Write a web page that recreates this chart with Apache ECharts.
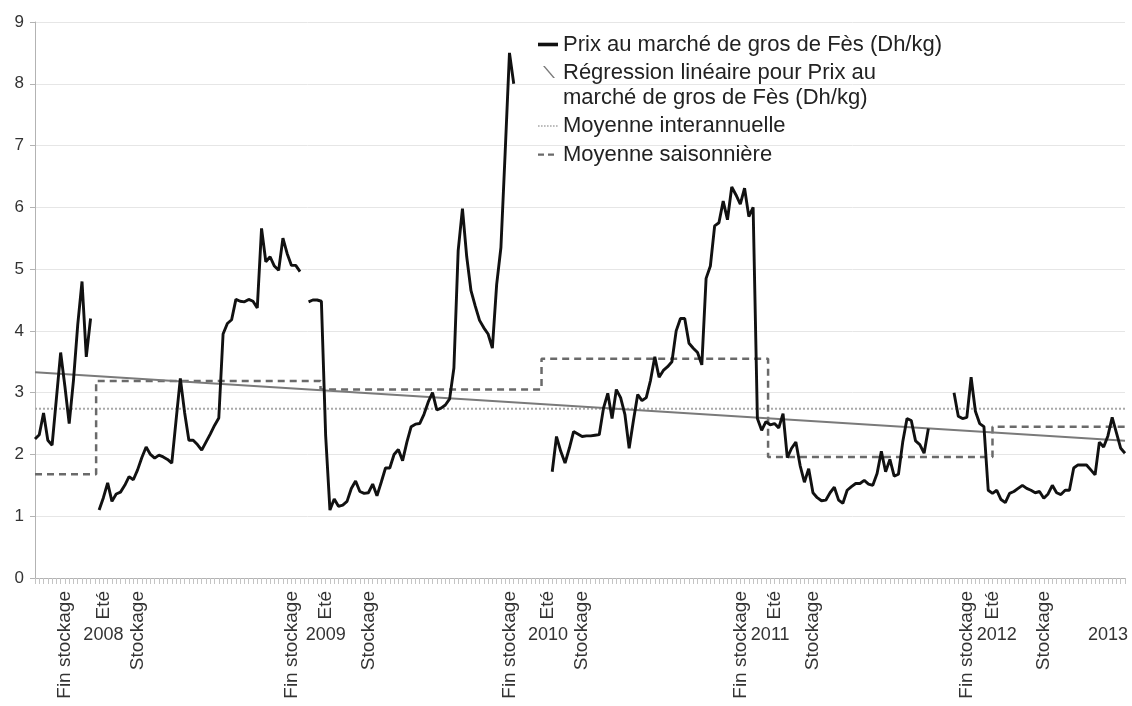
<!DOCTYPE html>
<html>
<head>
<meta charset="utf-8">
<script src="https://cdn.jsdelivr.net/npm/echarts@6/dist/echarts.min.js"></script>
<style>html,body{margin:0;padding:0;background:#fff}#c{width:1132px;height:706px}</style>
</head>
<body>
<div id="c"></div>
<script>
// ---- data (weekly observations, index 0..255) ----
const weekCount = 256;
const segmentStarts = [0, 15, 64, 121, 215];
const prix2008a = [2.25, 2.32, 2.67, 2.23, 2.15, 2.9, 3.65, 3.1, 2.5, 3.2, 4.1, 4.8, 3.58, 4.2];
const prix2008b = [1.10, 1.30, 1.54, 1.24, 1.36, 1.39, 1.50, 1.64, 1.59, 1.75, 1.95, 2.12, 2.00, 1.94, 1.99, 1.96, 1.92, 1.86,
  2.55, 3.23, 2.68, 2.23, 2.23, 2.16, 2.07, 2.20, 2.33, 2.47, 2.59, 3.95, 4.12, 4.18, 4.51, 4.48, 4.47, 4.51, 4.48, 4.37,
  5.66, 5.12, 5.20, 5.05, 4.98, 5.50, 5.25, 5.06, 5.06, 4.96];
const prix2009 = [4.47, 4.50, 4.50, 4.48, 2.30, 1.10, 1.28, 1.16, 1.18, 1.24, 1.45, 1.57, 1.40, 1.37, 1.38, 1.52, 1.33, 1.55,
  1.78, 1.78, 2.00, 2.08, 1.90, 2.20, 2.45, 2.49, 2.50, 2.65, 2.85, 3.00, 2.72, 2.75, 2.80, 2.90, 3.40, 5.30, 5.98, 5.20,
  4.65, 4.40, 4.17, 4.05, 3.95, 3.72, 4.75, 5.35, 6.90, 8.50, 8.00];
const prix2010 = [1.72, 2.29, 2.05, 1.86, 2.10, 2.37, 2.33, 2.29, 2.30, 2.30, 2.31, 2.32, 2.75, 2.99, 2.58, 3.05, 2.92, 2.65,
  2.10, 2.55, 2.97, 2.87, 2.92, 3.20, 3.58, 3.25, 3.36, 3.42, 3.50, 4.00, 4.20, 4.20, 3.80, 3.72, 3.65, 3.45, 4.85, 5.05,
  5.70, 5.75, 6.10, 5.80, 6.33, 6.20, 6.05, 6.31, 5.85, 6.00, 2.58, 2.39, 2.53, 2.48, 2.50, 2.43, 2.66, 1.95, 2.10, 2.20,
  1.82, 1.55, 1.77, 1.38, 1.30, 1.25, 1.26, 1.38, 1.47, 1.26, 1.21, 1.42, 1.48, 1.53, 1.53, 1.58, 1.52, 1.50, 1.69, 2.05,
  1.72, 1.92, 1.65, 1.68, 2.20, 2.58, 2.55, 2.22, 2.16, 2.02, 2.42];
const prix2012 = [3.00, 2.62, 2.58, 2.60, 3.25, 2.70, 2.50, 2.45, 1.42, 1.37, 1.42, 1.27, 1.22, 1.37, 1.40, 1.45, 1.50, 1.45,
  1.42, 1.38, 1.40, 1.29, 1.36, 1.50, 1.38, 1.35, 1.42, 1.42, 1.78, 1.83, 1.83, 1.83, 1.75, 1.67, 2.20, 2.12, 2.30, 2.60,
  2.35, 2.10, 2.02];
const regressionEnds = [3.33, 2.22];
const moyenneInterannuelle = 2.74;
const seasonBreaks = [0, 14.3, 66.8, 118.5, 171.5, 224, 255];
const seasonMeans = [1.68, 3.19, 3.05, 3.55, 1.96, 2.45];
const seasonTickIdx = [7, 16, 24, 60, 68, 78, 111, 120, 128, 165, 173, 182, 218, 224, 236];
const seasonTickText = ['Fin stockage', 'Eté', 'Stockage', 'Fin stockage', 'Eté', 'Stockage', 'Fin stockage', 'Eté', 'Stockage',
  'Fin stockage', 'Eté', 'Stockage', 'Fin stockage', 'Eté', 'Stockage'];
const yearTickIdx = [16, 68, 120, 172, 225, 251];
const yearTickText = ['2008', '2009', '2010', '2011', '2012', '2013'];
const seriesNames = ['Prix au marché de gros de Fès (Dh/kg)',
  'Régression linéaire pour Prix au\nmarché de gros de Fès (Dh/kg)',
  'Moyenne interannuelle', 'Moyenne saisonnière'];

// ---- build series data ----
const prix = new Array(weekCount).fill(null);
[prix2008a, prix2008b, prix2009, prix2010, prix2012].forEach((seg, k) => {
  seg.forEach((v, j) => { prix[segmentStarts[k] + j] = v; });
});
const prixData = prix.map((v, i) => [i, v == null ? '-' : v]);
const regData = [[0, regressionEnds[0]], [weekCount - 1, regressionEnds[1]]];
const interData = [[0, moyenneInterannuelle], [weekCount - 1, moyenneInterannuelle]];
const seasonData = [];
seasonMeans.forEach((m, k) => { seasonData.push([seasonBreaks[k], m]); seasonData.push([seasonBreaks[k + 1], m]); });

const FONT = '"Liberation Sans", Arial, sans-serif';
const box = 'M0,0L0,0M20,14L20,14';
let dots = box;
for (let x = 0; x <= 18; x += 3) dots += 'M' + x + ',6.2L' + (x + 1.6) + ',6.2L' + (x + 1.6) + ',7.8L' + x + ',7.8Z';
const icons = [
  'path://' + box + 'M0,5.2L20,5.2L20,8.8L0,8.8Z',
  'path://' + box + 'M5,0L6.8,0L17,12L15.2,12Z',
  'path://' + dots,
  'path://' + box + 'M0,6L6,6L6,8.2L0,8.2ZM10,6L16,6L16,8.2L10,8.2Z'
];

const chart = echarts.init(document.getElementById('c'));
chart.setOption({
  animation: false,
  backgroundColor: '#fff',
  textStyle: { fontFamily: FONT },
  grid: { left: 35, right: 7, top: 22, bottom: 128, containLabel: false, outerBoundsMode: 'none' },
  legend: [{
    orient: 'vertical', left: 538, top: 32, padding: 0, itemGap: -21.5, itemWidth: 20, itemHeight: 14,
    selectedMode: false, itemStyle: { borderWidth: 0 },
    textStyle: { fontSize: 22, lineHeight: 25, color: '#222', fontFamily: FONT },
    formatter: name => (name === seriesNames[1] ? '\n' + name : name),
    data: [
      { name: seriesNames[0], icon: icons[0] },
      { name: seriesNames[1], icon: icons[1] }
    ]
  }, {
    orient: 'vertical', left: 538, top: 113.5, padding: 0, itemGap: 3.5, itemWidth: 20, itemHeight: 14,
    selectedMode: false, itemStyle: { borderWidth: 0 },
    textStyle: { fontSize: 22, lineHeight: 25, color: '#222', fontFamily: FONT },
    data: [
      { name: seriesNames[2], icon: icons[2] },
      { name: seriesNames[3], icon: icons[3] }
    ]
  }],
  xAxis: [{
    type: 'value', min: 0, max: weekCount - 1, interval: 1, position: 'bottom',
    axisLine: { show: true, lineStyle: { color: '#b3b3b3', width: 1 } },
    axisTick: { show: true, length: 6, lineStyle: { color: '#c4c4c4', width: 1 } },
    splitLine: { show: false },
    axisLabel: {
      show: true, rotate: 90, margin: 13, fontSize: 19, color: '#333', fontFamily: FONT,
      formatter: v => { const k = seasonTickIdx.indexOf(Math.round(v)); return k >= 0 ? seasonTickText[k] : ''; }
    }
  }, {
    type: 'value', min: 0, max: weekCount - 1, interval: 1, position: 'bottom',
    axisLine: { show: false }, axisTick: { show: false }, splitLine: { show: false },
    axisLabel: {
      show: true, rotate: 0, margin: 48, fontSize: 18, color: '#333', fontFamily: FONT,
      formatter: v => { const k = yearTickIdx.indexOf(Math.round(v)); return k >= 0 ? yearTickText[k] : ''; }
    }
  }],
  yAxis: {
    type: 'value', min: 0, max: 9, interval: 1,
    axisLine: { show: true, lineStyle: { color: '#b3b3b3', width: 1 } },
    axisTick: { show: true, length: 5, lineStyle: { color: '#b3b3b3' } },
    splitLine: { show: true, lineStyle: { color: '#e6e6e6', width: 1 } },
    axisLabel: { fontSize: 17, color: '#333', margin: 11, fontFamily: FONT }
  },
  series: [
    { name: seriesNames[2], type: 'line', data: interData, symbol: 'none', color: '#a8a8a8',
      lineStyle: { color: '#a8a8a8', width: 2, type: [2, 2] }, z: 2 },
    { name: seriesNames[3], type: 'line', data: seasonData, symbol: 'none', color: '#6a6a6a',
      lineStyle: { color: '#6a6a6a', width: 2.5, type: [7, 5] }, z: 3 },
    { name: seriesNames[1], type: 'line', data: regData, symbol: 'none', color: '#7a7a7a',
      lineStyle: { color: '#7a7a7a', width: 2 }, z: 4 },
    { name: seriesNames[0], type: 'line', data: prixData, symbol: 'none', color: '#111',
      connectNulls: false, lineStyle: { color: '#111', width: 2.9 }, z: 5 }
  ]
});
</script>
</body>
</html>
